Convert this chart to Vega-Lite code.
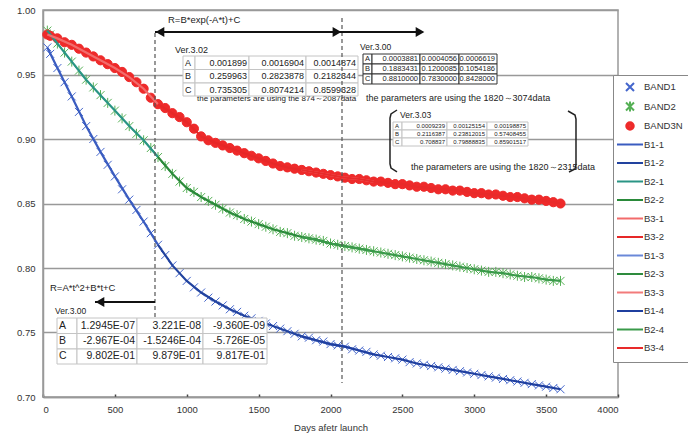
{
  "$schema": "https://vega.github.io/schema/vega-lite/v6.json",
  "width": 575,
  "height": 387,
  "autosize": {"type": "none"},
  "padding": {"left": 43, "top": 10, "right": 70, "bottom": 44},
  "background": "white",
  "config": {
    "font": "Liberation Sans",
    "view": {"stroke": "#999999", "strokeWidth": 1.5, "fill": "white"},
    "axis": {"labelFont": "Liberation Sans", "titleFont": "Liberation Sans", "labelColor": "#333333", "titleColor": "#333333", "labelFontSize": 9.5, "titleFontSize": 9.5, "titleFontWeight": "normal"}
  },
  "datasets": {
    "obs": [
      {"d":30,"BAND1":0.971,"BAND2":0.984,"BAND3N":0.981},
      {"d":50,"BAND1":0.966,"BAND2":0.981,"BAND3N":0.980},
      {"d":100,"BAND1":0.955,"BAND2":0.974,"BAND3N":0.978},
      {"d":150,"BAND1":0.944,"BAND2":0.967,"BAND3N":0.975},
      {"d":200,"BAND1":0.933,"BAND2":0.960,"BAND3N":0.973},
      {"d":250,"BAND1":0.921,"BAND2":0.953,"BAND3N":0.970},
      {"d":300,"BAND1":0.910,"BAND2":0.946,"BAND3N":0.967},
      {"d":350,"BAND1":0.900,"BAND2":0.940,"BAND3N":0.964},
      {"d":400,"BAND1":0.890,"BAND2":0.934,"BAND3N":0.961},
      {"d":450,"BAND1":0.880,"BAND2":0.928,"BAND3N":0.958},
      {"d":500,"BAND1":0.871,"BAND2":0.922,"BAND3N":0.955},
      {"d":550,"BAND1":0.861,"BAND2":0.916,"BAND3N":0.952},
      {"d":600,"BAND1":0.853,"BAND2":0.910,"BAND3N":0.948},
      {"d":650,"BAND1":0.845,"BAND2":0.904,"BAND3N":0.944},
      {"d":700,"BAND1":0.836,"BAND2":0.899,"BAND3N":0.939},
      {"d":750,"BAND1":0.827,"BAND2":0.893,"BAND3N":0.932},
      {"d":800,"BAND1":0.818,"BAND2":0.886,"BAND3N":0.927},
      {"d":850,"BAND1":0.810,"BAND2":0.879,"BAND3N":0.924},
      {"d":900,"BAND1":0.802,"BAND2":0.873,"BAND3N":0.920},
      {"d":950,"BAND1":0.796,"BAND2":0.867,"BAND3N":0.917},
      {"d":1000,"BAND1":0.790,"BAND2":0.862,"BAND3N":0.913},
      {"d":1050,"BAND1":0.785,"BAND2":0.859,"BAND3N":0.908},
      {"d":1100,"BAND1":0.781,"BAND2":0.855,"BAND3N":0.902},
      {"d":1150,"BAND1":0.777,"BAND2":0.852,"BAND3N":0.899},
      {"d":1200,"BAND1":0.774,"BAND2":0.849,"BAND3N":0.897},
      {"d":1250,"BAND1":0.771,"BAND2":0.846,"BAND3N":0.895},
      {"d":1300,"BAND1":0.768,"BAND2":0.843,"BAND3N":0.893},
      {"d":1350,"BAND1":0.766,"BAND2":0.841,"BAND3N":0.891},
      {"d":1400,"BAND1":0.763,"BAND2":0.838,"BAND3N":0.889},
      {"d":1450,"BAND1":0.761,"BAND2":0.836,"BAND3N":0.887},
      {"d":1500,"BAND1":0.759,"BAND2":0.834,"BAND3N":0.885},
      {"d":1550,"BAND1":0.757,"BAND2":0.832,"BAND3N":0.883},
      {"d":1600,"BAND1":0.755,"BAND2":0.830,"BAND3N":0.881},
      {"d":1650,"BAND1":0.753,"BAND2":0.828,"BAND3N":0.879},
      {"d":1700,"BAND1":0.751,"BAND2":0.827,"BAND3N":0.878},
      {"d":1750,"BAND1":0.749,"BAND2":0.825,"BAND3N":0.877},
      {"d":1800,"BAND1":0.747,"BAND2":0.824,"BAND3N":0.876},
      {"d":1850,"BAND1":0.746,"BAND2":0.823,"BAND3N":0.875},
      {"d":1900,"BAND1":0.744,"BAND2":0.822,"BAND3N":0.874},
      {"d":1950,"BAND1":0.743,"BAND2":0.821,"BAND3N":0.873},
      {"d":2000,"BAND1":0.741,"BAND2":0.819,"BAND3N":0.872},
      {"d":2050,"BAND1":0.740,"BAND2":0.818,"BAND3N":0.871},
      {"d":2100,"BAND1":0.739,"BAND2":0.817,"BAND3N":0.870},
      {"d":2150,"BAND1":0.737,"BAND2":0.816,"BAND3N":0.869},
      {"d":2200,"BAND1":0.736,"BAND2":0.815,"BAND3N":0.869},
      {"d":2250,"BAND1":0.735,"BAND2":0.814,"BAND3N":0.868},
      {"d":2300,"BAND1":0.733,"BAND2":0.813,"BAND3N":0.867},
      {"d":2350,"BAND1":0.732,"BAND2":0.812,"BAND3N":0.867},
      {"d":2400,"BAND1":0.731,"BAND2":0.811,"BAND3N":0.866},
      {"d":2450,"BAND1":0.730,"BAND2":0.810,"BAND3N":0.865},
      {"d":2500,"BAND1":0.729,"BAND2":0.809,"BAND3N":0.865},
      {"d":2550,"BAND1":0.727,"BAND2":0.808,"BAND3N":0.864},
      {"d":2600,"BAND1":0.726,"BAND2":0.807,"BAND3N":0.863},
      {"d":2650,"BAND1":0.725,"BAND2":0.806,"BAND3N":0.863},
      {"d":2700,"BAND1":0.724,"BAND2":0.805,"BAND3N":0.862},
      {"d":2750,"BAND1":0.723,"BAND2":0.804,"BAND3N":0.861},
      {"d":2800,"BAND1":0.722,"BAND2":0.803,"BAND3N":0.861},
      {"d":2850,"BAND1":0.721,"BAND2":0.802,"BAND3N":0.860},
      {"d":2900,"BAND1":0.720,"BAND2":0.801,"BAND3N":0.860},
      {"d":2950,"BAND1":0.719,"BAND2":0.800,"BAND3N":0.859},
      {"d":3000,"BAND1":0.718,"BAND2":0.799,"BAND3N":0.858},
      {"d":3050,"BAND1":0.717,"BAND2":0.798,"BAND3N":0.858},
      {"d":3100,"BAND1":0.716,"BAND2":0.797,"BAND3N":0.857},
      {"d":3150,"BAND1":0.715,"BAND2":0.797,"BAND3N":0.857},
      {"d":3200,"BAND1":0.714,"BAND2":0.796,"BAND3N":0.856},
      {"d":3250,"BAND1":0.713,"BAND2":0.795,"BAND3N":0.855},
      {"d":3300,"BAND1":0.712,"BAND2":0.794,"BAND3N":0.855},
      {"d":3350,"BAND1":0.711,"BAND2":0.793,"BAND3N":0.854},
      {"d":3400,"BAND1":0.710,"BAND2":0.793,"BAND3N":0.853},
      {"d":3450,"BAND1":0.709,"BAND2":0.792,"BAND3N":0.853},
      {"d":3500,"BAND1":0.708,"BAND2":0.791,"BAND3N":0.852},
      {"d":3550,"BAND1":0.707,"BAND2":0.790,"BAND3N":0.851},
      {"d":3600,"BAND1":0.706,"BAND2":0.790,"BAND3N":0.850}
    ],
    "fits": [
      {"d":30,"B1-1":0.971,"B2-1":0.984,"B3-1":0.981},
      {"d":100,"B1-1":0.955,"B2-1":0.974,"B3-1":0.978},
      {"d":200,"B1-1":0.933,"B2-1":0.960,"B3-1":0.973},
      {"d":300,"B1-1":0.910,"B2-1":0.946,"B3-1":0.967},
      {"d":400,"B1-1":0.890,"B2-1":0.934,"B3-1":0.961},
      {"d":500,"B1-1":0.871,"B2-1":0.922,"B3-1":0.955},
      {"d":600,"B1-1":0.853,"B2-1":0.910,"B3-1":0.948},
      {"d":700,"B1-1":0.836,"B2-1":0.899,"B3-1":0.939},
      {"d":800,"B1-1":0.818,"B2-1":0.886,"B3-1":0.927,"B1-2":0.818,"B2-2":0.886,"B3-2":0.927},
      {"d":900,"B1-2":0.802,"B2-2":0.873,"B3-2":0.920},
      {"d":1000,"B1-2":0.790,"B2-2":0.862,"B3-2":0.913},
      {"d":1100,"B1-2":0.781,"B2-2":0.855,"B3-2":0.902},
      {"d":1200,"B1-2":0.774,"B2-2":0.849,"B3-2":0.897},
      {"d":1300,"B1-2":0.768,"B2-2":0.843,"B3-2":0.893},
      {"d":1400,"B1-2":0.763,"B2-2":0.838,"B3-2":0.889},
      {"d":1500,"B1-2":0.759,"B2-2":0.834,"B3-2":0.885},
      {"d":1600,"B1-2":0.755,"B2-2":0.830,"B3-2":0.881},
      {"d":1700,"B1-2":0.751,"B2-2":0.827,"B3-2":0.878},
      {"d":1800,"B1-2":0.747,"B2-2":0.824,"B3-2":0.876,"B1-3":0.747,"B2-3":0.824,"B3-3":0.876,"B1-4":0.747,"B2-4":0.824,"B3-4":0.876},
      {"d":1900,"B1-2":0.744,"B2-2":0.822,"B3-2":0.874,"B1-3":0.744,"B2-3":0.822,"B3-3":0.874,"B1-4":0.744,"B2-4":0.822,"B3-4":0.874},
      {"d":2000,"B1-2":0.741,"B2-2":0.819,"B3-2":0.872,"B1-3":0.741,"B2-3":0.819,"B3-3":0.872,"B1-4":0.741,"B2-4":0.819,"B3-4":0.872},
      {"d":2100,"B1-2":0.739,"B2-2":0.817,"B3-2":0.870,"B1-3":0.739,"B2-3":0.817,"B3-3":0.870,"B1-4":0.739,"B2-4":0.817,"B3-4":0.870},
      {"d":2200,"B1-3":0.736,"B2-3":0.815,"B3-3":0.869,"B1-4":0.736,"B2-4":0.815,"B3-4":0.869},
      {"d":2300,"B1-3":0.733,"B2-3":0.813,"B3-3":0.867,"B1-4":0.733,"B2-4":0.813,"B3-4":0.867},
      {"d":2400,"B1-4":0.731,"B2-4":0.811,"B3-4":0.866},
      {"d":2500,"B1-4":0.729,"B2-4":0.809,"B3-4":0.865},
      {"d":2600,"B1-4":0.726,"B2-4":0.807,"B3-4":0.863},
      {"d":2700,"B1-4":0.724,"B2-4":0.805,"B3-4":0.862},
      {"d":2800,"B1-4":0.722,"B2-4":0.803,"B3-4":0.861},
      {"d":2900,"B1-4":0.720,"B2-4":0.801,"B3-4":0.860},
      {"d":3000,"B1-4":0.718,"B2-4":0.799,"B3-4":0.858},
      {"d":3100,"B1-4":0.716,"B2-4":0.797,"B3-4":0.857},
      {"d":3200,"B1-4":0.714,"B2-4":0.796,"B3-4":0.856},
      {"d":3300,"B1-4":0.712,"B2-4":0.794,"B3-4":0.855},
      {"d":3400,"B1-4":0.710,"B2-4":0.793,"B3-4":0.853},
      {"d":3500,"B1-4":0.708,"B2-4":0.791,"B3-4":0.852},
      {"d":3600,"B1-4":0.706,"B2-4":0.790,"B3-4":0.850}
    ],
    "notes": [
      {"k":"f","d":869.6,"v":0.99225,"txt":"R=B*exp(-A*t)+C"},
      {"k":"f","d":48.7,"v":0.7845,"txt":"R=A*t^2+B*t+C"},
      {"k":"ver","d":918.3,"v":0.96899,"txt":"Ver.3.02"},
      {"k":"vs","d":2205.2,"v":0.97132,"txt":"Ver.3.00"},
      {"k":"vs","d":2483.5,"v":0.9186,"txt":"Ver.3.03"},
      {"k":"vs","d":83.5,"v":0.76667,"txt":"Ver.3.00"},
      {"k":"p2","d":1071.3,"v":0.93101,"txt":"the parameters are using the 874～2087data"},
      {"k":"p","d":2247,"v":0.93178,"txt":"the parameters are using the 1820～3074data"},
      {"k":"p","d":2560,"v":0.87829,"txt":"the parameters are using the 1820～2315data"}
    ],
    "cells": [
      {"tb":"t302","c":0,"t":"A","d":973.9,"d2":1057.4,"v":0.96434,"v2":0.95388,"ym":0.95911},
      {"tb":"t302","c":1,"t":"0.001899","d":1057.4,"d2":1433.0,"v":0.96434,"v2":0.95388,"ym":0.95911},
      {"tb":"t302","c":2,"t":"0.0016904","d":1433.0,"d2":1829.6,"v":0.96434,"v2":0.95388,"ym":0.95911},
      {"tb":"t302","c":3,"t":"0.0014874","d":1829.6,"d2":2191.3,"v":0.96434,"v2":0.95388,"ym":0.95911},
      {"tb":"t302","c":0,"t":"B","d":973.9,"d2":1057.4,"v":0.95388,"v2":0.94341,"ym":0.94865},
      {"tb":"t302","c":1,"t":"0.259963","d":1057.4,"d2":1433.0,"v":0.95388,"v2":0.94341,"ym":0.94865},
      {"tb":"t302","c":2,"t":"0.2823878","d":1433.0,"d2":1829.6,"v":0.95388,"v2":0.94341,"ym":0.94865},
      {"tb":"t302","c":3,"t":"0.2182344","d":1829.6,"d2":2191.3,"v":0.95388,"v2":0.94341,"ym":0.94865},
      {"tb":"t302","c":0,"t":"C","d":973.9,"d2":1057.4,"v":0.94341,"v2":0.93333,"ym":0.93837},
      {"tb":"t302","c":1,"t":"0.735305","d":1057.4,"d2":1433.0,"v":0.94341,"v2":0.93333,"ym":0.93837},
      {"tb":"t302","c":2,"t":"0.8074214","d":1433.0,"d2":1829.6,"v":0.94341,"v2":0.93333,"ym":0.93837},
      {"tb":"t302","c":3,"t":"0.8599328","d":1829.6,"d2":2191.3,"v":0.94341,"v2":0.93333,"ym":0.93837},
      {"tb":"t300s","c":0,"t":"A","d":2226.1,"d2":2288.7,"v":0.96589,"v2":0.95814,"ym":0.96202},
      {"tb":"t300s","c":1,"t":"0.0003881","d":2288.7,"d2":2622.6,"v":0.96589,"v2":0.95814,"ym":0.96202},
      {"tb":"t300s","c":2,"t":"0.0004056","d":2622.6,"d2":2893.9,"v":0.96589,"v2":0.95814,"ym":0.96202},
      {"tb":"t300s","c":3,"t":"0.0006619","d":2893.9,"d2":3158.3,"v":0.96589,"v2":0.95814,"ym":0.96202},
      {"tb":"t300s","c":0,"t":"B","d":2226.1,"d2":2288.7,"v":0.95814,"v2":0.95039,"ym":0.95426},
      {"tb":"t300s","c":1,"t":"0.1883431","d":2288.7,"d2":2622.6,"v":0.95814,"v2":0.95039,"ym":0.95426},
      {"tb":"t300s","c":2,"t":"0.1200085","d":2622.6,"d2":2893.9,"v":0.95814,"v2":0.95039,"ym":0.95426},
      {"tb":"t300s","c":3,"t":"0.1054186","d":2893.9,"d2":3158.3,"v":0.95814,"v2":0.95039,"ym":0.95426},
      {"tb":"t300s","c":0,"t":"C","d":2226.1,"d2":2288.7,"v":0.95039,"v2":0.94264,"ym":0.94651},
      {"tb":"t300s","c":1,"t":"0.8810000","d":2288.7,"d2":2622.6,"v":0.95039,"v2":0.94264,"ym":0.94651},
      {"tb":"t300s","c":2,"t":"0.7830000","d":2622.6,"d2":2893.9,"v":0.95039,"v2":0.94264,"ym":0.94651},
      {"tb":"t300s","c":3,"t":"0.8428000","d":2893.9,"d2":3158.3,"v":0.95039,"v2":0.94264,"ym":0.94651},
      {"tb":"t303","c":0,"t":"A","d":2434.8,"d2":2497.4,"v":0.91318,"v2":0.90698,"ym":0.91008},
      {"tb":"t303","c":1,"t":"0.0009239","d":2497.4,"d2":2810.4,"v":0.91318,"v2":0.90698,"ym":0.91008},
      {"tb":"t303","c":2,"t":"0.00125154","d":2810.4,"d2":3088.7,"v":0.91318,"v2":0.90698,"ym":0.91008},
      {"tb":"t303","c":3,"t":"0.00198875","d":3088.7,"d2":3373.9,"v":0.91318,"v2":0.90698,"ym":0.91008},
      {"tb":"t303","c":0,"t":"B","d":2434.8,"d2":2497.4,"v":0.90698,"v2":0.90078,"ym":0.90388},
      {"tb":"t303","c":1,"t":"0.2116387","d":2497.4,"d2":2810.4,"v":0.90698,"v2":0.90078,"ym":0.90388},
      {"tb":"t303","c":2,"t":"0.23812015","d":2810.4,"d2":3088.7,"v":0.90698,"v2":0.90078,"ym":0.90388},
      {"tb":"t303","c":3,"t":"0.57408455","d":3088.7,"d2":3373.9,"v":0.90698,"v2":0.90078,"ym":0.90388},
      {"tb":"t303","c":0,"t":"C","d":2434.8,"d2":2497.4,"v":0.90078,"v2":0.89457,"ym":0.89767},
      {"tb":"t303","c":1,"t":"0.708837","d":2497.4,"d2":2810.4,"v":0.90078,"v2":0.89457,"ym":0.89767},
      {"tb":"t303","c":2,"t":"0.79888835","d":2810.4,"d2":3088.7,"v":0.90078,"v2":0.89457,"ym":0.89767},
      {"tb":"t303","c":3,"t":"0.85901517","d":3088.7,"d2":3373.9,"v":0.90078,"v2":0.89457,"ym":0.89767},
      {"tb":"t300b","c":0,"t":"A","d":97.4,"d2":236.5,"v":0.76124,"v2":0.74922,"ym":0.75523},
      {"tb":"t300b","c":1,"t":"1.2945E-07","d":236.5,"d2":653.9,"v":0.76124,"v2":0.74922,"ym":0.75523},
      {"tb":"t300b","c":2,"t":"3.221E-08","d":653.9,"d2":1113.0,"v":0.76124,"v2":0.74922,"ym":0.75523},
      {"tb":"t300b","c":3,"t":"-9.360E-09","d":1113.0,"d2":1558.3,"v":0.76124,"v2":0.74922,"ym":0.75523},
      {"tb":"t300b","c":0,"t":"B","d":97.4,"d2":236.5,"v":0.74922,"v2":0.73721,"ym":0.74322},
      {"tb":"t300b","c":1,"t":"-2.967E-04","d":236.5,"d2":653.9,"v":0.74922,"v2":0.73721,"ym":0.74322},
      {"tb":"t300b","c":2,"t":"-1.5246E-04","d":653.9,"d2":1113.0,"v":0.74922,"v2":0.73721,"ym":0.74322},
      {"tb":"t300b","c":3,"t":"-5.726E-05","d":1113.0,"d2":1558.3,"v":0.74922,"v2":0.73721,"ym":0.74322},
      {"tb":"t300b","c":0,"t":"C","d":97.4,"d2":236.5,"v":0.73721,"v2":0.72558,"ym":0.7314},
      {"tb":"t300b","c":1,"t":"9.802E-01","d":236.5,"d2":653.9,"v":0.73721,"v2":0.72558,"ym":0.7314},
      {"tb":"t300b","c":2,"t":"9.879E-01","d":653.9,"d2":1113.0,"v":0.73721,"v2":0.72558,"ym":0.7314},
      {"tb":"t300b","c":3,"t":"9.817E-01","d":1113.0,"d2":1558.3,"v":0.73721,"v2":0.72558,"ym":0.7314}
    ],
    "dashes": [
      {"d":779.1,"v":0.98217,"v2":0.76202},
      {"d":2080,"v":0.9938,"v2":0.71085}
    ],
    "arrows": [
      {"d":779.1,"d2":2640,"v":0.98295},
      {"d":361.7,"d2":779.1,"v":0.77364}
    ],
    "heads": [
      {"dir":"L","d":814,"v":0.98295},
      {"dir":"R","d":2045,"v":0.98295},
      {"dir":"R","d":2622.6,"v":0.98295},
      {"dir":"L","d":396.5,"v":0.77364}
    ],
    "brackets": [
      {"b":"L","o":1,"d":2462.6,"v":0.92248},
      {"b":"L","o":2,"d":2420.9,"v":0.91938},
      {"b":"L","o":3,"d":2413.9,"v":0.91628},
      {"b":"L","o":4,"d":2413.9,"v":0.88062},
      {"b":"L","o":5,"d":2420.9,"v":0.87752},
      {"b":"L","o":6,"d":2462.6,"v":0.87442},
      {"b":"R","o":1,"d":3652.2,"v":0.92171},
      {"b":"R","o":2,"d":3700.9,"v":0.9186},
      {"b":"R","o":3,"d":3707.8,"v":0.9155},
      {"b":"R","o":4,"d":3707.8,"v":0.87984},
      {"b":"R","o":5,"d":3700.9,"v":0.87674},
      {"b":"R","o":6,"d":3659.1,"v":0.87442}
    ]
  },
  "encoding": {
    "x": {"field": "d", "type": "quantitative",
      "scale": {"domain": [0, 4000], "nice": false, "zero": false},
      "axis": {"title": "Days afetr launch", "values": [0,500,1000,1500,2000,2500,3000,3500,4000], "format": "d", "grid": false, "tickSize": -3, "tickColor": "#444444", "tickWidth": 1.5, "labelPadding": 10, "titlePadding": 9, "domainColor": "#999999", "domainWidth": 1.5}},
    "y": {"field": "v", "type": "quantitative",
      "scale": {"domain": [0.7, 1.0], "nice": false, "zero": false},
      "axis": {"title": null, "values": [0.7,0.75,0.8,0.85,0.9,0.95,1.0], "format": ".2f", "grid": true, "gridColor": "#999999", "gridWidth": 1.5, "ticks": false, "labelPadding": 8, "domainColor": "#999999", "domainWidth": 1.5}}
  },
  "layer": [
    {
      "data": {"name": "obs"},
      "transform": [{"fold": ["BAND1", "BAND2", "BAND3N"], "as": ["series", "v"]}],
      "mark": {"type": "point", "filled": false, "strokeWidth": 1, "opacity": 1},
      "encoding": {
        "color": {"field": "series", "type": "nominal", "title": null,
          "scale": {
            "domain": ["BAND1","BAND2","BAND3N","B1-1","B1-2","B2-1","B2-2","B3-1","B3-2","B1-3","B2-3","B3-3","B1-4","B2-4","B3-4"],
            "range": ["#4466cc","#55b055","#ee2a2a","#3a5cc0","#22439f","#2a9585","#2a8a3a","#f26b6b","#e62828","#6a88d8","#2e8b3e","#f27b7b","#1f3f9f","#3a9a4a","#e82a2a"]},
          "legend": {
            "title": null, "orient": "none", "legendX": 570, "legendY": 65,
            "fillColor": "white", "strokeColor": "#888888", "padding": 6,
            "symbolSize": 100, "symbolOffset": 5, "symbolStrokeWidth": 2, "rowPadding": 2.5, "labelOffset": 8,
            "labelFont": "Liberation Sans", "labelFontSize": 9.5, "labelColor": "#333333"
          }},
        "shape": {"field": "series", "type": "nominal", "title": null,
          "scale": {
            "domain": ["BAND1","BAND2","BAND3N","B1-1","B1-2","B2-1","B2-2","B3-1","B3-2","B1-3","B2-3","B3-3","B1-4","B2-4","B3-4"],
            "range": ["M-0.8,-0.8L0.8,0.8M-0.8,0.8L0.8,-0.8", "M-0.8,-0.8L0.8,0.8M-0.8,0.8L0.8,-0.8M0,-1L0,1", "M0.75,0A0.75,0.75 0 1,1 -0.75,0A0.75,0.75 0 1,1 0.75,0ZM0.45,0A0.45,0.45 0 1,1 -0.45,0A0.45,0.45 0 1,1 0.45,0ZM0.15,0A0.15,0.15 0 1,1 -0.15,0A0.15,0.15 0 1,1 0.15,0Z", "M0,-0.8M0,0.8M-2.6,0L2.6,0", "M0,-0.8M0,0.8M-2.6,0L2.6,0", "M0,-0.8M0,0.8M-2.6,0L2.6,0", "M0,-0.8M0,0.8M-2.6,0L2.6,0", "M0,-0.8M0,0.8M-2.6,0L2.6,0", "M0,-0.8M0,0.8M-2.6,0L2.6,0", "M0,-0.8M0,0.8M-2.6,0L2.6,0", "M0,-0.8M0,0.8M-2.6,0L2.6,0", "M0,-0.8M0,0.8M-2.6,0L2.6,0", "M0,-0.8M0,0.8M-2.6,0L2.6,0", "M0,-0.8M0,0.8M-2.6,0L2.6,0", "M0,-0.8M0,0.8M-2.6,0L2.6,0"]}},
        "size": {"condition": {"test": "datum.series==='BAND3N'", "value": 150}, "value": 100},
        "fill": {"condition": {"test": "datum.series==='BAND3N'", "value": "#ee2a2a"}, "value": "transparent"}
      }
    },
    {
      "data": {"name": "fits"},
      "transform": [
        {"fold": ["B1-1","B1-2","B2-1","B2-2","B3-1","B3-2","B1-3","B2-3","B3-3","B1-4","B2-4","B3-4"], "as": ["seg", "v"]},
        {"filter": "isValid(datum.v)"}
      ],
      "mark": {"type": "line", "strokeWidth": 2.2},
      "encoding": {
        "color": {"field": "seg", "type": "nominal", "legend": null}
      }
    },
    {
      "data": {"name": "notes"},
      "mark": {"type": "text", "align": "left", "baseline": "middle", "font": "Liberation Sans", "color": "#222222"},
      "encoding": {
        "text": {"field": "txt"},
        "size": {"condition": [{"test": "datum.k==='ver'", "value": 9}, {"test": "datum.k==='vs'", "value": 8.5}, {"test": "datum.k==='f'", "value": 9.5}, {"test": "datum.k==='p2'", "value": 8}], "value": 9}
      }
    },
    {
      "data": {"name": "cells"},
      "mark": {"type": "rect", "fill": "white", "strokeWidth": 1},
      "encoding": {
        "x2": {"field": "d2"},
        "y2": {"field": "v2"},
        "stroke": {"condition": {"test": "datum.tb==='t300s'", "value": "#333333"}, "value": "#c4c4c4"}
      }
    },
    {
      "data": {"name": "cells"},
      "transform": [{"filter": "datum.c===0"}],
      "mark": {"type": "text", "align": "left", "baseline": "middle", "dx": 2, "font": "Liberation Sans", "color": "#222222"},
      "encoding": {
        "y": {"field": "ym", "type": "quantitative"},
        "text": {"field": "t"},
        "size": {"condition": [{"test": "datum.tb==='t300b'", "value": 10.5}, {"test": "datum.tb==='t300s'", "value": 7.5}, {"test": "datum.tb==='t303'", "value": 6}], "value": 9}
      }
    },
    {
      "data": {"name": "cells"},
      "transform": [{"filter": "datum.c>0"}],
      "mark": {"type": "text", "align": "right", "baseline": "middle", "dx": -2, "font": "Liberation Sans", "color": "#222222"},
      "encoding": {
        "x": {"field": "d2", "type": "quantitative"},
        "y": {"field": "ym", "type": "quantitative"},
        "text": {"field": "t"},
        "size": {"condition": [{"test": "datum.tb==='t300b'", "value": 10.5}, {"test": "datum.tb==='t300s'", "value": 7.5}, {"test": "datum.tb==='t303'", "value": 6}], "value": 9}
      }
    },
    {
      "data": {"name": "dashes"},
      "mark": {"type": "rule", "color": "#555555", "strokeWidth": 1.2, "strokeDash": [4, 3]},
      "encoding": {"y2": {"field": "v2"}}
    },
    {
      "data": {"name": "arrows"},
      "mark": {"type": "rule", "color": "#111111", "strokeWidth": 2},
      "encoding": {"x2": {"field": "d2"}}
    },
    {
      "data": {"name": "heads"},
      "mark": {"type": "point", "filled": true, "size": 100, "color": "#111111", "opacity": 1},
      "encoding": {
        "shape": {"condition": {"test": "datum.dir==='L'", "value": "triangle-left"}, "value": "triangle-right"}
      }
    },
    {
      "data": {"name": "brackets"},
      "mark": {"type": "line", "color": "#222222", "strokeWidth": 1.5},
      "encoding": {"detail": {"field": "b"}, "order": {"field": "o", "type": "quantitative"}}
    }
  ]
}
